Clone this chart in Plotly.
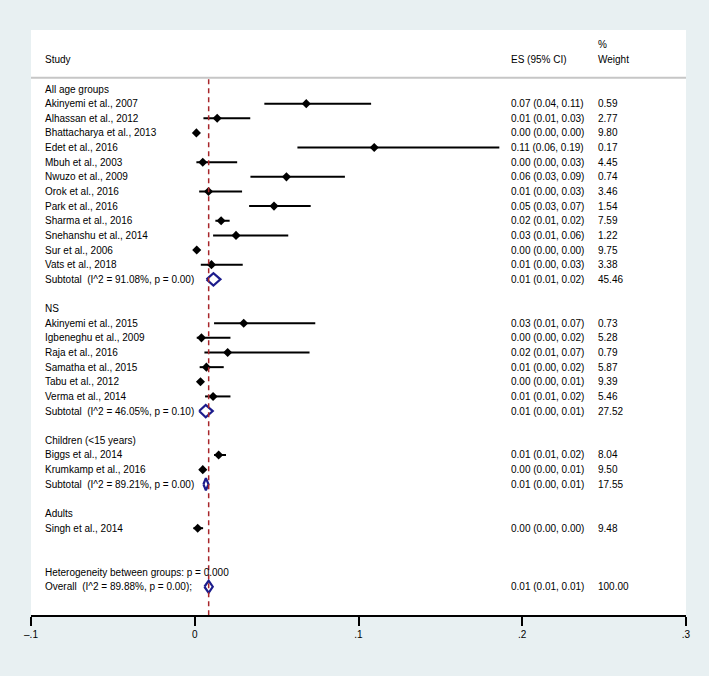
import plotly.graph_objects as go

# ---------------- data ----------------
group_names = ["All age groups", "NS", "Children (&lt;15 years)", "Adults"]

study = [
    "Akinyemi et al., 2007", "Alhassan et al., 2012", "Bhattacharya et al., 2013",
    "Edet et al., 2016", "Mbuh et al., 2003", "Nwuzo et al., 2009", "Orok et al., 2016",
    "Park et al., 2016", "Sharma et al., 2016", "Snehanshu et al., 2014",
    "Sur et al., 2006", "Vats et al., 2018",
    "Akinyemi et al., 2015", "Igbeneghu et al., 2009", "Raja et al., 2016",
    "Samatha et al., 2015", "Tabu et al., 2012", "Verma et al., 2014",
    "Biggs et al., 2014", "Krumkamp et al., 2016",
    "Singh et al., 2014",
]
study_group = [0] * 12 + [1] * 6 + [2] * 2 + [3]
es = [0.0681, 0.0137, 0.0010, 0.1096, 0.0049, 0.0560, 0.0084, 0.0484, 0.0161, 0.0252,
      0.0012, 0.0102,
      0.0299, 0.0041, 0.0201, 0.0071, 0.0035, 0.0112,
      0.0146, 0.0049,
      0.0018]
ci_lo = [0.0425, 0.0053, 0.0003, 0.0627, 0.0010, 0.0340, 0.0027, 0.0332, 0.0126, 0.0112,
         0.0005, 0.0037,
         0.0118, 0.0012, 0.0059, 0.0030, 0.0018, 0.0063,
         0.0118, 0.0030,
         -0.0008]
ci_hi = [0.1077, 0.0339, 0.0017, 0.1860, 0.0259, 0.0917, 0.0289, 0.0708, 0.0213, 0.0571,
         0.0019, 0.0293,
         0.0736, 0.0218, 0.0701, 0.0177, 0.0049, 0.0218,
         0.0191, 0.0069,
         0.0051]
es_text = ["0.07 (0.04, 0.11)", "0.01 (0.01, 0.03)", "0.00 (0.00, 0.00)", "0.11 (0.06, 0.19)",
           "0.00 (0.00, 0.03)", "0.06 (0.03, 0.09)", "0.01 (0.00, 0.03)", "0.05 (0.03, 0.07)",
           "0.02 (0.01, 0.02)", "0.03 (0.01, 0.06)", "0.00 (0.00, 0.00)", "0.01 (0.00, 0.03)",
           "0.03 (0.01, 0.07)", "0.00 (0.00, 0.02)", "0.02 (0.01, 0.07)", "0.01 (0.00, 0.02)",
           "0.00 (0.00, 0.01)", "0.01 (0.01, 0.02)",
           "0.01 (0.01, 0.02)", "0.00 (0.00, 0.01)",
           "0.00 (0.00, 0.00)"]
weight_text = ["0.59", "2.77", "9.80", "0.17", "4.45", "0.74", "3.46", "1.54", "7.59", "1.22",
               "9.75", "3.38",
               "0.73", "5.28", "0.79", "5.87", "9.39", "5.46",
               "8.04", "9.50",
               "9.48"]

# subtotals (groups 0,1,2)
sub_group = [0, 1, 2]
sub_label = ["Subtotal\u00a0 (I^2 = 91.08%, p = 0.00)",
             "Subtotal\u00a0 (I^2 = 46.05%, p = 0.10)",
             "Subtotal\u00a0 (I^2 = 89.21%, p = 0.00)"]
sub_es = [0.0114, 0.0067, 0.0068]
sub_lo = [0.0072, 0.0027, 0.0053]
sub_hi = [0.0157, 0.0110, 0.0084]
sub_es_text = ["0.01 (0.01, 0.02)", "0.01 (0.00, 0.01)", "0.01 (0.00, 0.01)"]
sub_weight_text = ["45.46", "27.52", "17.55"]

het_label = "Heterogeneity between groups: p = 0.000"
overall_label = "Overall\u00a0 (I^2 = 89.88%, p = 0.00);"
overall_es = 0.0085
overall_lo = 0.0059
overall_hi = 0.0110
overall_es_text = "0.01 (0.01, 0.01)"
overall_weight_text = "100.00"

x_ticks = [-0.1, 0, 0.1, 0.2, 0.3]
x_tick_labels = ["\u2013.1", "0", ".1", ".2", ".3"]

# ---------------- layout of rows ----------------
header_rows, study_rows, sub_rows = [], [], []
r = 0
for g in range(len(group_names)):
    header_rows.append(r)
    r += 1
    for k in range(len(study)):
        if study_group[k] == g:
            study_rows.append(r)
            r += 1
    if g in sub_group:
        sub_rows.append(r)
    r += 1
    r += 1
het_row = r
overall_row = r + 1

BG = "#e8f0f2"
FONT = "Liberation Sans, Arial, Helvetica, sans-serif"
NAVY = "#1c1c8c"
RED = "#a8262b"

fig = go.Figure()

# CI lines
xl, yl = [], []
for lo, hi, yy in zip(ci_lo, ci_hi, study_rows):
    xl += [lo, hi, None]
    yl += [yy, yy, None]
fig.add_trace(go.Scatter(x=xl, y=yl, mode="lines",
                         line=dict(color="black", width=2), hoverinfo="skip"))

# point estimates
fig.add_trace(go.Scatter(x=es, y=study_rows, mode="markers",
                         marker=dict(symbol="diamond", size=7, color="black"),
                         hoverinfo="skip"))

# pooled diamonds
h = 0.42
xd, yd = [], []
for e, lo, hi, yy in zip(sub_es + [overall_es], sub_lo + [overall_lo],
                         sub_hi + [overall_hi], sub_rows + [overall_row]):
    xd += [lo, e, hi, e, lo, None]
    yd += [yy, yy - h, yy, yy + h, yy, None]
fig.add_trace(go.Scatter(x=xd, y=yd, mode="lines",
                         line=dict(color=NAVY, width=2.2), hoverinfo="skip"))

# ---------------- text ----------------
X_STUDY = 0.0179
X_ES = 0.730
X_WT = 0.863
ann = []


def add_text(x, y, t):
    ann.append(dict(x=x, y=y, xref="paper", yref="y", text=t, showarrow=False,
                    xanchor="left", yanchor="middle",
                    font=dict(family=FONT, size=10, color="black")))


add_text(X_STUDY, -2, "Study")
add_text(X_ES, -2, "ES (95% CI)")
add_text(X_WT, -2, "Weight")
add_text(X_WT, -3.05, "%")
for g, yy in enumerate(header_rows):
    add_text(X_STUDY, yy, group_names[g])
for k, yy in enumerate(study_rows):
    add_text(X_STUDY, yy, study[k])
    add_text(X_ES, yy, es_text[k])
    add_text(X_WT, yy, weight_text[k])
for k, yy in enumerate(sub_rows):
    add_text(X_STUDY, yy, sub_label[k])
    add_text(X_ES, yy, sub_es_text[k])
    add_text(X_WT, yy, sub_weight_text[k])
add_text(X_STUDY, het_row, het_label)
add_text(X_STUDY, overall_row, overall_label)
add_text(X_ES, overall_row, overall_es_text)
add_text(X_WT, overall_row, overall_weight_text)

Y_BOTTOM = 35.93
Y_TOP = -4.03

shapes = [
    dict(type="line", xref="paper", yref="y", x0=0, x1=1, y0=-0.77, y1=-0.77,
         line=dict(color="#c6c6c6", width=2)),
    dict(type="line", xref="x", yref="y", x0=overall_es, x1=overall_es,
         y0=-0.66, y1=Y_BOTTOM, line=dict(color=RED, width=1.5, dash="5px,4px")),
]

fig.update_layout(
    width=709, height=676,
    margin=dict(l=31, r=23, t=30, b=61),
    paper_bgcolor=BG, plot_bgcolor="white",
    showlegend=False,
    annotations=ann, shapes=shapes,
    font=dict(family=FONT, size=10, color="black"),
    xaxis=dict(range=[-0.1, 0.3], tickvals=x_ticks, ticktext=x_tick_labels,
               showgrid=False, zeroline=False, showline=True, linecolor="black",
               linewidth=1.5, ticks="outside", ticklen=9, tickwidth=1.5,
               tickcolor="black", tickfont=dict(family=FONT, size=10, color="black")),
    yaxis=dict(range=[Y_BOTTOM, Y_TOP], visible=False, showgrid=False, zeroline=False),
)

fig.write_html(
    "out.html",
    config={"displayModeBar": False},
    post_script="document.body.style.margin='0';document.body.style.background='" + BG + "';",
)
